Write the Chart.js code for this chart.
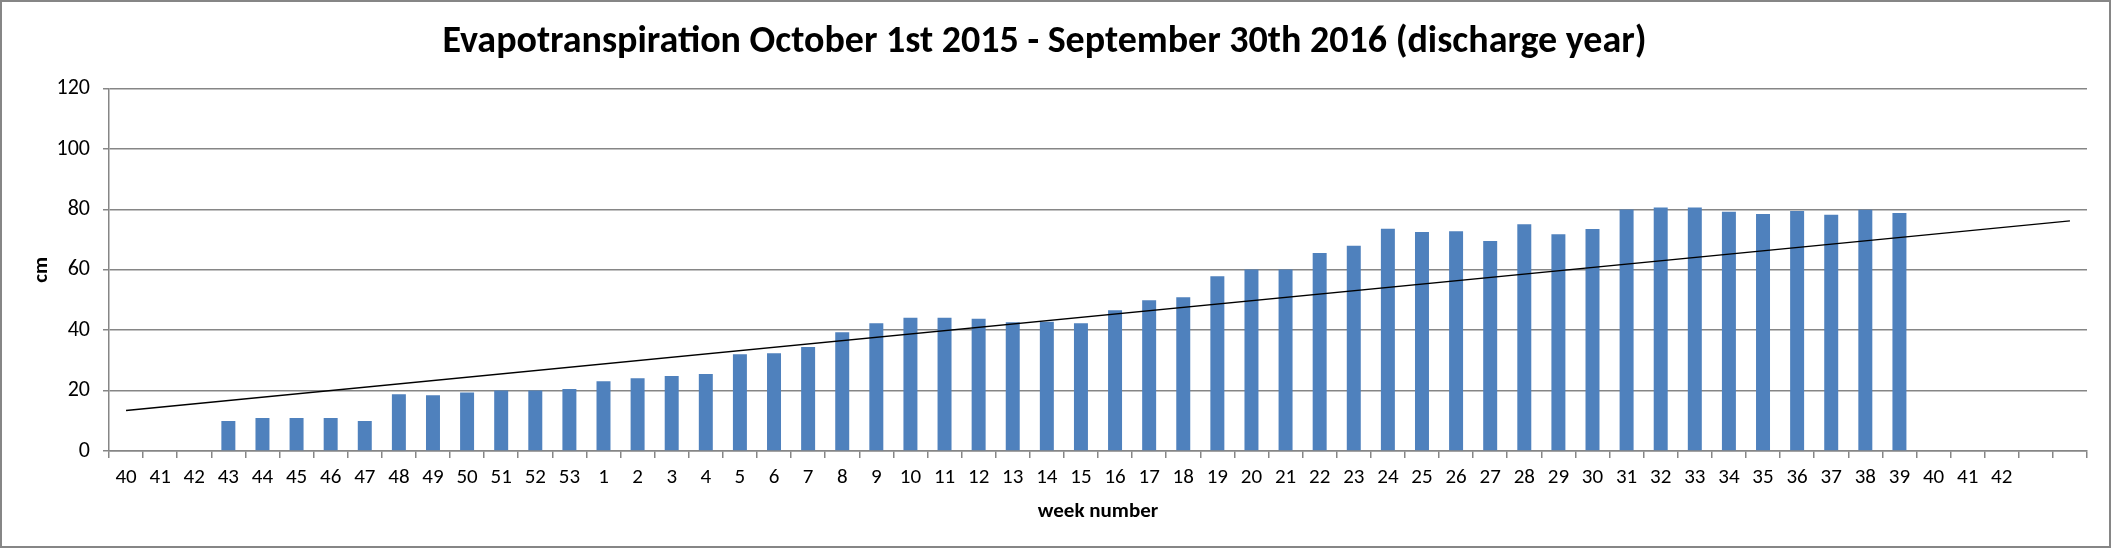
<!DOCTYPE html>
<html>
    <head>
        <title>Evapotranspiration</title>
        <meta charset="UTF-8" />
        <script src="https://cdn.jsdelivr.net/npm/chart.js"></script>
        <style>
            body { margin: 0; background: #fff; }
            .frame {
                width: 2111px;
                height: 548px;
                box-sizing: border-box;
                border: 2px solid #868686;
                background: #fff;
            }
        </style>
    </head>
    <body>
        <div class="frame">
            <canvas id="myChart" width="2107" height="544"></canvas>
        </div>
        <script>
            // week labels (two empty slots at the end)
            var weeks = ['40','41','42','43','44','45','46','47','48','49','50','51','52','53',
                '1','2','3','4','5','6','7','8','9','10','11','12','13','14','15','16','17','18','19','20',
                '21','22','23','24','25','26','27','28','29','30','31','32','33','34','35','36','37','38','39',
                '40','41','42','',''];

            // evapotranspiration in cm per week
            var etValues = [null, null, null, 9.9, 10.9, 10.9, 10.9, 9.9, 18.8, 18.5, 19.4, 20.0, 20.0, 20.5,
                23.1, 24.1, 24.8, 25.5, 32.0, 32.4, 34.4, 39.3, 42.3, 44.1, 44.1, 43.8, 42.6, 42.8, 42.3, 46.6,
                49.9, 50.9, 57.9, 60.1, 60.1, 65.6, 68.0, 73.6, 72.5, 72.8, 69.5, 75.1, 71.8, 73.5, 80.0, 80.6,
                80.6, 79.2, 78.5, 79.5, 78.2, 79.9, 78.8,
                null, null, null, null, null];

            // trend line end points
            var trendStart = 13.4;
            var trendEnd = 76.2;

            var yTicks = [0, 20, 40, 60, 80, 100, 120];

            var trendValues = weeks.map(function (w, i) {
                if (i === 0) return trendStart;
                if (i === weeks.length - 1) return trendEnd;
                return null;
            });

            var fontFamily = 'Carlito, Lato, sans-serif';
            var gray = '#868686';

            var ctx = document.getElementById('myChart').getContext('2d');
            var myChart = new Chart(ctx, {
                data: {
                    labels: weeks,
                    datasets: [{
                        type: 'line',
                        label: 'trend',
                        data: trendValues,
                        spanGaps: true,
                        borderColor: '#000',
                        borderWidth: 1.5,
                        pointRadius: 0,
                        fill: false,
                        order: 0
                    }, {
                        type: 'bar',
                        label: 'evapotranspiration',
                        data: etValues,
                        backgroundColor: '#4F81BD',
                        borderWidth: 0,
                        barPercentage: 0.41,
                        categoryPercentage: 1.0,
                        order: 1
                    }]
                },
                options: {
                    responsive: false,
                    animation: false,
                    devicePixelRatio: 1,
                    layout: {
                        padding: { left: 0, right: 22, top: 0, bottom: 0 }
                    },
                    plugins: {
                        legend: { display: false },
                        tooltip: { enabled: false },
                        title: {
                            display: true,
                            text: 'Evapotranspiration October 1st 2015 - September 30th 2016 (discharge year)',
                            color: '#000',
                            font: { family: fontFamily, size: 38, weight: 'bold' },
                            padding: { top: 18, bottom: 23 }
                        }
                    },
                    scales: {
                        x: {
                            offset: true,
                            afterFit: function (scale) { scale.height = 95; },
                            grid: {
                                display: true,
                                offset: true,
                                drawOnChartArea: false,
                                drawTicks: true,
                                tickLength: 7,
                                color: gray,
                                lineWidth: 1.5
                            },
                            border: { display: true, color: gray, width: 1.5 },
                            ticks: {
                                color: '#000',
                                padding: 7,
                                maxRotation: 0,
                                autoSkip: false,
                                font: { family: fontFamily, size: 21 }
                            },
                            title: {
                                display: true,
                                text: 'week number',
                                color: '#000',
                                font: { family: fontFamily, size: 21, weight: 'bold' },
                                padding: { top: 0, bottom: 22 }
                            }
                        },
                        y: {
                            min: 0,
                            max: 120,
                            afterFit: function (scale) { scale.width = 107; },
                            afterBuildTicks: function (scale) {
                                scale.ticks = yTicks.map(function (v) { return { value: v }; });
                            },
                            grid: {
                                color: gray,
                                lineWidth: 1.5,
                                tickLength: 6
                            },
                            border: { display: true, color: gray, width: 1.5 },
                            ticks: {
                                color: '#000',
                                padding: 13,
                                font: { family: fontFamily, size: 22 }
                            },
                            title: {
                                display: true,
                                text: 'cm',
                                color: '#000',
                                font: { family: fontFamily, size: 21, weight: 'bold' },
                                padding: { top: 27, bottom: 0 }
                            }
                        }
                    }
                }
            });
        </script>
    </body>
</html>
